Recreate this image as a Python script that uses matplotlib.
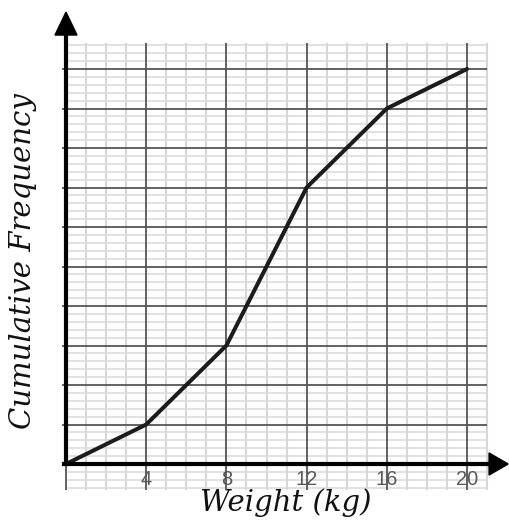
import matplotlib
matplotlib.use("Agg")
import matplotlib.pyplot as plt
from matplotlib.patches import Polygon
import numpy as np

# Data
weights = [0, 4, 8, 12, 16, 20]
cum_freq = [0, 10, 30, 70, 90, 100]
x_tick_values = [4, 8, 12, 16, 20]
x_tick_labels = ["4", "8", "12", "16", "20"]
x_label = "Weight (kg)"
y_label = "Cumulative Frequency"

W, H = 509, 522
fig = plt.figure(figsize=(W / 100, H / 100), dpi=100)
ax = fig.add_axes([0, 0, 1, 1])

# pixel geometry -> data limits
x0_px, y0_px = 66, 464
px_per_x = 20.05
px_per_y = 3.95
ax.set_xlim(-x0_px / px_per_x, (W - x0_px) / px_per_x)
ax.set_ylim(-(H - y0_px) / px_per_y, y0_px / px_per_y)
ax.patch.set_alpha(0)

grid_x_max = 21
grid_y_min, grid_y_max = -6.6, 106.6

# minor grid
minor_x = [v for v in range(0, grid_x_max + 1) if v % 4 != 0]
minor_y = [v for v in range(-6, 107, 2) if v % 10 != 0]
ax.vlines(minor_x, grid_y_min, grid_y_max, colors="#d6d6d6", linewidth=1.5, zorder=1)
ax.hlines(minor_y, 0, grid_x_max, colors="#dcdcdc", linewidth=1.2, zorder=1)
# major grid
major_x = list(range(0, grid_x_max + 1, 4))
major_y = list(range(10, 101, 10))
ax.vlines(major_x, grid_y_min, grid_y_max, colors="#555555", linewidth=1.3, zorder=2)
ax.hlines(major_y, -0.2, grid_x_max, colors="#555555", linewidth=1.3, zorder=2)

# curve
ax.plot(weights, cum_freq, color="#1c1c1c", linewidth=2.9,
        solid_joinstyle="round", solid_capstyle="round", zorder=4)

# axes (spines) with arrows
for s in ["top", "right"]:
    ax.spines[s].set_visible(False)
ax.spines["left"].set_position(("data", 0))
ax.spines["bottom"].set_position(("data", 0))
ax.spines["left"].set_bounds(0, 109)
ax.spines["bottom"].set_bounds(-0.1, 21.2)
for s in ["left", "bottom"]:
    ax.spines[s].set_linewidth(3.0)
    ax.spines[s].set_color("black")
    ax.spines[s].set_zorder(5)

ax.add_patch(Polygon([[-0.55, 108.6], [0.55, 108.6], [0, 114.4]],
                     closed=True, color="black", zorder=6, clip_on=False))
ax.add_patch(Polygon([[21.1, 2.8], [21.1, -2.8], [22.05, 0]],
                     closed=True, color="black", zorder=6, clip_on=False))

ax.set_xticks(x_tick_values)
ax.set_xticklabels(x_tick_labels, family="Liberation Sans", fontsize=14.5, color="#5a5a5a")
ax.tick_params(axis="x", length=0, pad=4)
ax.set_yticks([])

ax.set_xlabel(x_label, family="DejaVu Serif", style="italic", fontsize=21, color="#111111")
ax.xaxis.set_label_coords(286 / W, 1 - 503 / H)
ax.xaxis.label.set_va("center")
ax.set_ylabel(y_label, family="DejaVu Serif", style="italic", fontsize=21, color="#111111")
ax.yaxis.set_label_coords(23 / W, 1 - 261 / H)
ax.yaxis.label.set_va("center")

fig.savefig("out.png", dpi=100, facecolor="white")
